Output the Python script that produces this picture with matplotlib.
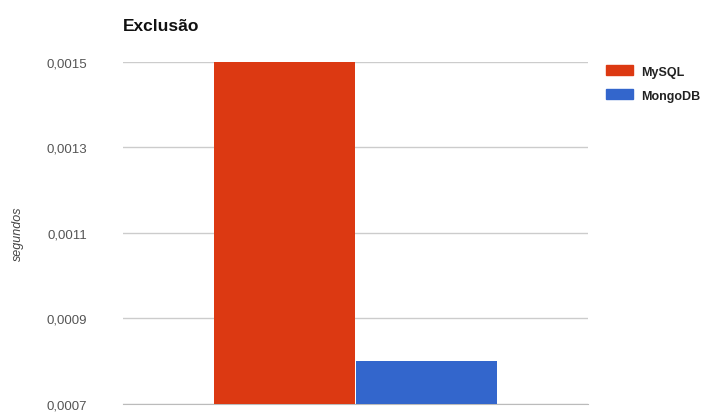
import matplotlib.pyplot as plt
from matplotlib.patches import Patch
from matplotlib.ticker import FuncFormatter

TITLE = "Exclusão"
SERIES = ["MySQL", "MongoDB"]
VALUES = [0.0015, 0.0008]
COLORS = ["#dc3912", "#3366cc"]
Y_TICKS = [0.0007, 0.0009, 0.0011, 0.0013, 0.0015]

NARROW = ["Liberation Sans Narrow", "Liberation Sans", "DejaVu Sans"]


def main():
    fig = plt.figure(figsize=(7.11, 4.14), dpi=100)
    ax = fig.add_axes([0.173, 0.022, 0.654, 0.826])

    width = 0.305
    offsets = [-width / 2, width / 2]
    for name, val, col, off in zip(SERIES, VALUES, COLORS, offsets):
        ax.bar(off, val, width=width * 0.99, color=col, label=name, zorder=3)

    ax.set_xlim(-0.5, 0.5)
    ax.set_ylim(Y_TICKS[0], Y_TICKS[-1])
    ax.set_yticks(Y_TICKS)
    ax.yaxis.set_major_formatter(
        FuncFormatter(lambda v, _: f"{v:.4f}".replace(".", ","))
    )
    ax.set_xticks([])
    ax.grid(axis="y", color="#cccccc", linewidth=1, zorder=0)
    for s in ["left", "right", "top"]:
        ax.spines[s].set_visible(False)
    ax.spines["bottom"].set_color("#bbbbbb")
    ax.tick_params(axis="y", length=0, pad=26, labelsize=9.5, labelcolor="#555555")
    for t in ax.get_yticklabels():
        t.set_family(NARROW)

    ax.set_ylabel("segundos", fontstyle="italic", color="#444444",
                  fontsize=9, labelpad=16, family=["Liberation Sans", "DejaVu Sans"])
    fig.text(0.173, 0.935, TITLE, fontsize=12.5, fontweight="bold",
             ha="left", va="center", color="#111111", family=NARROW)

    handles = [Patch(color=c, label=n) for n, c in zip(SERIES, COLORS)]
    leg = fig.legend(handles=handles, loc="upper left",
                     bbox_to_anchor=(0.852, 0.84), frameon=False,
                     prop={"family": NARROW, "size": 9, "weight": "bold"},
                     handlelength=2.2, handleheight=0.85,
                     handletextpad=0.6, labelspacing=0.95,
                     borderaxespad=0, borderpad=0)
    for t in leg.get_texts():
        t.set_color("#222222")

    fig.savefig("out.png", dpi=100)


if __name__ == "__main__":
    main()
